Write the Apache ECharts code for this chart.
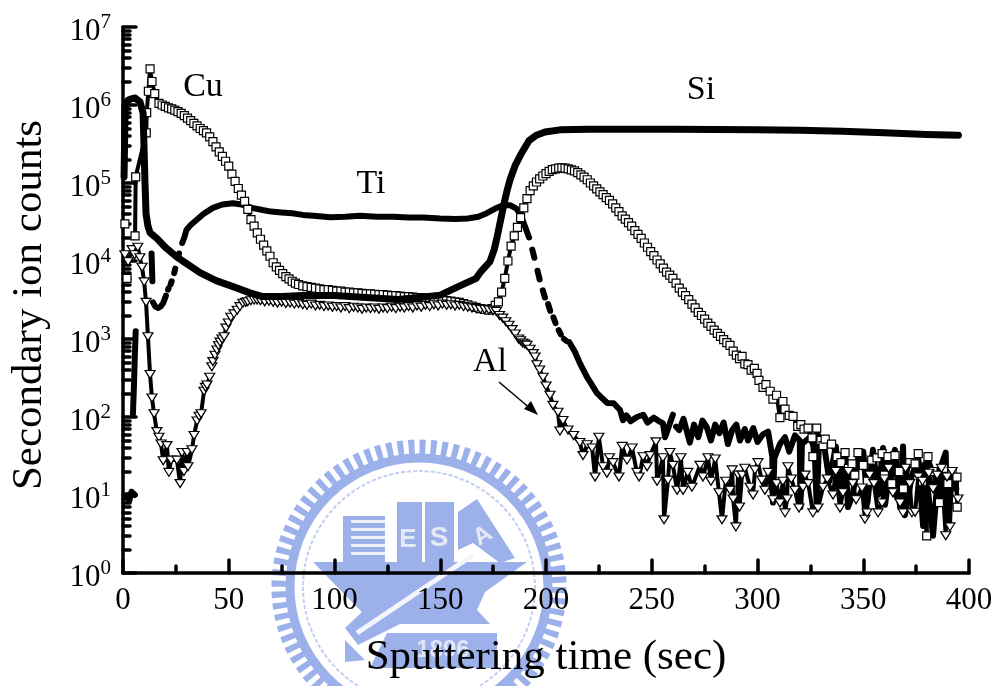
<!DOCTYPE html>
<html>
<head>
<meta charset="utf-8">
<title>Depth profile</title>
<script src="https://cdn.jsdelivr.net/npm/echarts@6/dist/echarts.min.js"></script>
<style>
html, body { margin: 0; padding: 0; background: #fff; }
#chart { width: 1003px; height: 686px; }
</style>
</head>
<body>
<div id="chart"></div>
<script>
// all values: [sec, counts], null = gap in the trace
const xTicks = [0, 50, 100, 150, 200, 250, 300, 350, 400]
const yTicks = [1, 10, 100, 1000, 1e4, 1e5, 1e6, 1e7]
const yMinorTicks = [
  2, 3, 4, 5, 6, 7, 8, 9,
  20, 30, 40, 50, 60, 70, 80, 90,
  200, 300, 400, 500, 600, 700, 800, 900,
  2000, 3000, 4000, 5000, 6000, 7000, 8000, 9000,
  2e4, 3e4, 4e4, 5e4, 6e4, 7e4, 8e4, 9e4,
  2e5, 3e5, 4e5, 5e5, 6e5, 7e5, 8e5, 9e5,
  2e6, 3e6, 4e6, 5e6, 6e6, 7e6, 8e6, 9e6,
]

const siCounts = [
  [0.5, 1.2e5], [1, 9.3e5], [2.4, 1.15e6], [4, 1.2e6], [5.7, 1.23e6], [8, 1.1e6], [9.5, 7.9e5], [10, 2.5e5],
  [10.4, 1e5], [10.9, 4e4], [11.8, 2.8e4], [12.8, 2.3e4], [16, 1.95e4], [20, 1.5e4], [25.5, 1.12e4], [30, 9300],
  [36.4, 7100], [44, 5600], [52, 4700], [60, 3900], [66, 3500], [75, 3500], [85, 3600], [100, 3600],
  [115, 3400], [130, 3200], [140, 3400], [150, 3650], [160, 4900], [167, 6000], [169, 7200], [173.5, 9800],
  [175.5, 14000], [177, 21000], [178.5, 33000], [180, 52000], [181.5, 78000], [183, 1.1e5], [185.5, 1.7e5], [188, 2.3e5],
  [192, 3.5e5], [195.5, 4.1e5], [199.5, 4.5e5], [206.6, 4.8e5], [220, 4.9e5], [240, 4.9e5], [260, 4.9e5], [280, 4.85e5],
  [300, 4.8e5], [320, 4.75e5], [340, 4.6e5], [360, 4.4e5], [380, 4.2e5], [395, 4.1e5],
]

const tiCounts = [
  [1.8, 10], [3, 8.5], [4, 11], [5.6, 10], [5.6, null],
  [4.7, 110], [5.2, 260], [5.6, 620], [6, 1260], [6, null],
  [13.5, 12500], [13.9, 5500], [13.9, null],
  [14.2, 2950], [15.3, 2600], [16.5, 2500], [17.8, 2600], [19, 2900], [20.3, 3600], [20.6, null],
  [21.3, 4300], [21.6, 4500], [21.6, null],
  [22.5, 5000], [23, 5500], [23, null], [24.2, 7000], [24.7, 8000], [24.7, null], [26, 11000], [26.5, 12500], [26.5, null],
  [28, 17000], [29, 20000], [30, 25000], [32, 29000], [35, 34000], [38, 40000], [42.5, 48000], [47, 53000],
  [52, 55000], [56, 53000], [61, 48000], [66, 45000], [70, 43000], [75, 42000], [80, 41000], [85, 39000],
  [90, 38000], [98, 36500], [105, 37000], [112, 38000], [120, 37000], [128, 37000], [135, 36000], [142, 36000],
  [150, 35000], [157, 34500], [163, 35000], [168, 37000], [172, 41000], [176, 47000], [180, 52000], [183, 52000],
  [186, 47000], [188, 39000], [190, 28000], [192, 20000], [192, null],
  [193.5, 14000], [194.5, 11000], [194.5, null], [196, 7500], [197, 5800], [197, null],
  [198.5, 4200], [199.5, 3400], [199.5, null], [201, 2800], [202, 2300], [202, null],
  [203.5, 1900], [204.5, 1600], [204.5, null], [206, 1300], [207, 1150], [207, null], [208.5, 1000], [209.5, 950], [209.5, null],
  [211, 912], [213.7, 680], [216, 490], [219.4, 324], [222, 250], [224, 204], [226.5, 175], [229, 151],
  [232, 150], [235, 123], [236.4, 91], [238, 105], [240, 88], [243, 100], [246, 107], [248, 85],
  [251, 98], [253, 90], [255.3, 83], [256.3, 55], [258, 75], [260, 107], [260, null],
  [261.5, 75], [263, 68], [265, 95], [268, 47], [270, 80], [272, 55], [274, 90], [276, 74],
  [278, 50], [280, 80], [282, 62], [284, 85], [286, 45], [288, 68], [290, 80], [291.7, 50],
  [294, 70], [295.5, 50], [298, 72], [300, 48], [302.6, 60], [305, 65], [307, 31], [307.3, 8],
  [308, 30], [310.6, 45], [313, 55], [315, 36], [317.7, 58], [320, 50], [320.3, 7], [321, 45],
  [324.8, 55], [327, 40], [328, 7], [329, 42], [331, 50], [332, 35], [334, 15], [337, 42],
  [339, 12], [341.4, 36], [342.8, 7], [345, 10], [347.5, 28], [350, 36], [352, 8], [354.6, 38],
  [357, 10], [359.4, 40], [360.3, 7.5], [362.6, 22], [365, 38], [367.4, 7], [368.8, 42], [369.7, 5.5],
  [373, 18], [376, 28], [378.3, 4], [379.2, 25], [383, 3], [385.3, 18], [389, 35], [389.6, 4.5],
  [392.4, 20], [394, 12],
]

const cuCounts = [
  [0.9, 3e4], [0.9, null], [1.9, 6000], [1.9, null],
  [5.7, 2.1e4], [6, 1.2e5], [11, 4.4e5], [11.2, 8e5], [12, 1.5e6], [12.8, 2.9e6], [13.7, 2e6], [15, 1.4e6],
  [17, 1.05e6], [18.5, 1e6], [20, 9.6e5], [21.5, 9.2e5], [23, 8.9e5], [24.5, 8.6e5], [26, 8.2e5], [27.5, 7.8e5],
  [29, 7.3e5], [30.5, 6.8e5], [32, 6.3e5], [33.5, 5.8e5], [35, 5.4e5], [36.5, 5e5], [38, 4.7e5], [39.5, 4.4e5],
  [41, 3.9e5], [42.5, 3.4e5], [44, 2.9e5], [45.5, 2.5e5], [47, 2.2e5], [48.5, 1.9e5], [50, 1.65e5], [51.5, 1.3e5],
  [53, 1.05e5], [54.5, 8.5e4], [56, 7e4], [57.5, 5.8e4], [59, 4.6e4], [60.5, 3.4e4], [62, 2.8e4], [63.5, 2.3e4],
  [65, 1.9e4], [66.5, 1.6e4], [68, 1.35e4], [69.5, 1.15e4], [71, 9500], [72.5, 8400], [74, 7600], [75.5, 6900],
  [77, 6300], [78.5, 5900], [80, 5500], [81.5, 5200], [83, 5000], [85, 4800], [87, 4700], [89, 4600],
  [91, 4500], [93, 4400], [95, 4300], [97, 4300], [99, 4200], [101, 4100], [103, 4100], [105, 4000],
  [107, 4000], [109, 3900], [111, 3900], [113, 3850], [115, 3800], [117, 3800], [119, 3750], [121, 3700],
  [123, 3700], [125, 3650], [127, 3600], [129, 3600], [131, 3550], [133, 3500], [135, 3500], [137, 3450],
  [139, 3400], [141, 3400], [143, 3350], [145, 3300], [147, 3250], [149, 3200], [151, 3150], [153, 3100],
  [155, 3050], [157, 3000], [159, 2950], [161, 2850], [163, 2750], [165, 2650], [167, 2550], [169, 2450],
  [171, 2400], [173, 2350], [174.5, 2450], [176, 2700], [177.5, 3000], [179, 4000], [180.5, 6000], [182, 10000],
  [183.5, 15500], [185, 21000], [186.5, 27000], [188, 36000], [189.5, 48000], [191, 63000], [192.5, 80000], [194, 92000],
  [195.5, 103000], [197, 113000], [198.5, 123000], [200, 132000], [201.5, 141000], [203, 148000], [204.5, 152000], [206, 155000],
  [207.5, 156000], [209, 155000], [210.5, 152000], [212, 147000], [213.5, 143000], [215, 136000], [216.5, 127000], [218, 119000],
  [219.5, 110000], [221, 100000], [222.5, 92000], [224, 84000], [225.5, 77000], [227, 71000], [228.5, 65000], [230, 60000],
  [231.5, 54000], [233, 48000], [234.5, 43000], [236, 38000], [237.5, 34500], [239, 31000], [240.5, 28000], [242, 24500],
  [243.5, 22000], [245, 19500], [246.5, 17000], [248, 15000], [249.5, 13200], [251, 11700], [252.5, 10300], [254, 9200],
  [255.5, 8100], [257, 7200], [258.5, 6600], [260, 6000], [261.5, 5200], [263, 4500], [264.5, 4000], [266, 3600],
  [267.5, 3200], [269, 2800], [270.5, 2500], [272, 2200], [273.5, 2000], [275, 1800], [276.5, 1600], [278, 1450],
  [279.5, 1300], [281, 1180], [282.5, 1080], [284, 980], [285.5, 900], [287, 830], [288.5, 700], [290, 620],
  [291.5, 560], [292.7, 600], [294, 480], [295.5, 468], [297, 400], [298.5, 420], [299.8, 363], [300.7, 295],
  [302.6, 240], [304, 260], [306, 214], [307.3, 170], [309, 190], [310.6, 98], [312, 158], [313, 126],
  [315, 105], [316.8, 102], [319, 76], [320.5, 80], [322, 70], [323.9, 72], [325.8, 54], [326.2, 31],
  [328, 72], [330, 50], [331, 43], [332, 52], [335, 45], [337.6, 31], [339.5, 26], [341.4, 35],
  [343, 22], [344.7, 25], [346, 18], [347.5, 35], [350, 24], [352, 15], [354, 28], [356.5, 30],
  [358.9, 34], [360, 18], [361.7, 31], [363.5, 14], [365, 32], [367, 20], [369, 12], [372, 26],
  [374.5, 25], [376, 34], [378, 15], [380, 3], [380.6, 31], [383, 20], [386, 8], [388, 22],
  [390, 14], [392, 20], [394.3, 17], [394.4, 7],
]

const alCounts = [
  [0.9, 12000], [2.4, 9800], [4.3, 14000], [5.5, 12000], [7, 15000], [8, 11000], [9, 8300], [10, 5400],
  [10.9, 2950], [11.8, 1070], [12.8, 350], [13.7, 175], [14.7, 110], [16, 65], [17, 55], [18, 45],
  [19, 27.5], [20.8, 43], [21.7, 19.5], [22.7, 28], [25.5, 28], [27, 14], [27.9, 35], [28.8, 20],
  [30.3, 35], [30.7, 23], [32.6, 38], [33.6, 58], [35, 89], [36, 102], [36.9, 110], [38.3, 214],
  [39, 240], [39.7, 257], [41, 324], [41, null], [42, 440], [42.5, 513], [43.5, 620], [44.4, 724],
  [45.2, 820], [45.9, 912], [46.8, 1000], [47.8, 1070], [48.7, 1380], [49.8, 1600], [51, 1900], [52.5, 2100],
  [54, 2340], [55.3, 2600], [56.7, 2880], [58, 2950], [59, 3000], [60.5, 3100], [62, 3150], [63.4, 3160],
  [65, 3100], [67, 3000], [69, 3050], [71, 2950], [73, 2900], [75, 2950], [77, 2850], [79, 2900],
  [81, 2800], [83, 2850], [85, 2750], [87, 2700], [89, 2800], [91, 2650], [93, 2700], [95, 2600],
  [97, 2650], [99, 2550], [101, 2600], [103, 2500], [105, 2600], [107, 2450], [109, 2550], [111, 2500],
  [113, 2400], [115, 2500], [117, 2450], [119, 2500], [121, 2400], [123, 2500], [125, 2450], [127, 2550],
  [129, 2450], [131, 2550], [133, 2500], [135, 2600], [137, 2500], [139, 2650], [141, 2550], [143, 2700],
  [145, 2600], [147, 2750], [149, 2650], [151, 2800], [153, 2700], [155, 2750], [157, 2650], [159, 2700],
  [161, 2600], [163, 2550], [165, 2500], [167, 2450], [169, 2400], [171, 2400], [173, 2350], [175, 2300],
  [176.5, 2250], [178, 2000], [179.5, 1850], [181, 1660], [182.5, 1500], [184, 1320], [185.5, 1160], [187, 1000],
  [188, 950], [189, 890], [190, 860], [191, 832], [192.5, 740], [194, 650], [194.8, 589], [195.7, 468],
  [197, 400], [198.6, 324], [200, 250], [201.9, 190], [203.3, 141], [205.7, 115], [206.6, 66], [208, 90],
  [210.4, 68], [213, 58], [216, 47], [217.5, 32], [219.5, 44], [221.8, 40], [223.2, 17], [225, 55],
  [227, 23], [228.8, 19], [230, 30], [231.7, 26], [234.5, 17], [236, 42], [238.3, 28], [240.7, 40],
  [243, 19.5], [244, 17], [245.9, 31], [247.8, 23], [249.2, 32], [252, 48], [252.5, 15], [255.3, 30],
  [255.8, 4.8], [257.7, 15.5], [258.6, 35], [260, 24], [262, 11.5], [263.8, 30], [264.8, 11.5], [267, 19.5],
  [269, 12.6], [272.8, 24], [274.2, 17], [276.6, 30], [278, 15], [280, 29], [281.8, 10.7], [283.2, 4.8],
  [285, 15], [287, 11.5], [288, 21], [288.5, 8.9], [289.8, 3.9], [290.8, 18], [291.5, 7], [292.7, 18],
  [294, 22], [296.5, 12.6], [297.9, 10], [298.8, 21], [300.2, 26], [302, 15.5], [303.5, 11.5], [305, 19.5],
  [307.3, 8.7], [309, 14], [310.6, 7.9], [312, 15], [313, 5.9], [314, 8.9], [314.4, 23], [316, 16],
  [317.7, 11.5], [319.6, 6.8], [321.5, 12.6], [322.5, 18], [324, 14], [326.2, 5.9], [328.6, 6.8], [331, 12.6],
  [333, 16], [335.7, 10], [337, 20], [339, 6.8], [340.4, 10.7], [343, 20], [345, 14], [346.6, 8.7],
  [349.4, 12.3], [350.8, 4.9], [351.8, 5.9], [353, 18], [355, 14], [357, 5.9], [358.9, 7.9], [360, 16],
  [362, 22], [364, 10.7], [367.4, 7.9], [368.8, 5.9], [370, 22], [372, 14], [373, 5.9], [374.5, 6],
  [376, 17], [378, 15], [381, 19], [383, 12], [384.9, 18], [387, 22], [389, 3], [389.6, 17],
  [391, 3.9], [392, 20], [394.8, 8.9],
]

const fontFamily = '"Liberation Serif", "Times New Roman", serif'
const logoColor = '#9cb0ea'

const buildLogo = () => [
  { type: 'circle', shape: { cx: 419, cy: 587, r: 140 }, style: { fill: 'none', stroke: logoColor, lineWidth: 15, lineDash: [6, 5] } },
  { type: 'circle', shape: { cx: 419, cy: 587, r: 129 }, style: { fill: 'none', stroke: logoColor, lineWidth: 9 } },
  { type: 'circle', shape: { cx: 419, cy: 587, r: 116 }, style: { fill: 'none', stroke: '#c3cfee', lineWidth: 2, lineDash: [4, 2] } },
  { type: 'rect', shape: { x: 343, y: 516, width: 42, height: 47 }, style: { fill: logoColor } },
  { type: 'rect', shape: { x: 351, y: 520, width: 34, height: 3 }, style: { fill: '#eef1fb' } },
  { type: 'rect', shape: { x: 351, y: 528, width: 34, height: 3 }, style: { fill: '#eef1fb' } },
  { type: 'rect', shape: { x: 351, y: 536, width: 34, height: 3 }, style: { fill: '#eef1fb' } },
  { type: 'rect', shape: { x: 351, y: 544, width: 34, height: 3 }, style: { fill: '#eef1fb' } },
  { type: 'rect', shape: { x: 351, y: 552, width: 34, height: 3 }, style: { fill: '#eef1fb' } },
  { type: 'rect', shape: { x: 397, y: 502, width: 25, height: 61 }, style: { fill: logoColor } },
  { type: 'rect', shape: { x: 425, y: 502, width: 29, height: 61 }, style: { fill: logoColor } },
  { type: 'polygon', shape: { points: [[458, 512], [477, 499], [515, 558], [500, 563], [473, 543], [458, 550]] }, style: { fill: logoColor } },
  { type: 'polygon', shape: { points: [[313, 562], [527, 562], [485, 592], [477, 610], [490, 624], [400, 624], [358, 645], [345, 628], [362, 612], [350, 600]] }, style: { fill: logoColor } },
  { type: 'polygon', shape: { points: [[387, 633], [497, 633], [497, 668], [370, 668]] }, style: { fill: logoColor } },
  { type: 'polygon', shape: { points: [[345, 640], [365, 660], [345, 662]] }, style: { fill: logoColor } },
  { type: 'line', shape: { x1: 473, y1: 555, x2: 357, y2: 633 }, style: { stroke: '#f4f6fc', lineWidth: 5 } },
  { type: 'text', style: { x: 408, y: 540, text: 'E', fill: '#e4e9f8', font: 'bold 26px "Liberation Sans"', align: 'center', verticalAlign: 'middle' } },
  { type: 'text', style: { x: 439, y: 538, text: 'S', fill: '#e4e9f8', font: 'bold 28px "Liberation Sans"', align: 'center', verticalAlign: 'middle' } },
  { type: 'text', rotation: 0.55, x: 483, y: 536, style: { text: 'A', fill: '#e4e9f8', font: 'bold 24px "Liberation Sans"', align: 'center', verticalAlign: 'middle' } },
  { type: 'text', style: { x: 443, y: 650, text: '1896', fill: '#dfe6f8', font: 'bold 24px "Liberation Sans"', align: 'center', verticalAlign: 'middle' } },
].map(item => ({ ...item, z: -1, silent: true }))

const note = (text, x, y) => ({
  type: 'text',
  z: 20,
  style: { x, y, text, fill: '#000', font: `34px ${fontFamily}`, align: 'center', verticalAlign: 'middle' },
})

const buildOption = () => ({
  animation: false,
  backgroundColor: '#fff',
  grid: { left: 123, right: 34, top: 27, bottom: 113, outerBoundsMode: 'none', containLabel: false },
  graphic: {
    elements: [
      ...buildLogo(),
      note('Cu', 203, 87),
      note('Ti', 371, 184),
      note('Si', 701, 90),
      note('Al', 490, 362),
      { type: 'line', z: 20, shape: { x1: 499, y1: 382, x2: 532, y2: 410 }, style: { stroke: '#000', lineWidth: 1.5 } },
      { type: 'polygon', z: 20, shape: { points: [[538, 415], [524, 409], [531, 401]] }, style: { fill: '#000' } },
    ],
  },
  xAxis: {
    type: 'value',
    min: 0,
    max: 400,
    interval: 50,
    name: 'Sputtering time (sec)',
    nameLocation: 'middle',
    nameGap: 63,
    nameTextStyle: { color: '#000', fontFamily, fontSize: 43 },
    axisLine: { show: true, lineStyle: { color: '#000', width: 3.5 } },
    axisTick: { show: true, inside: true, length: 13, lineStyle: { color: '#000', width: 3.5, cap: 'round' } },
    minorTick: { show: true, splitNumber: 2, length: 7, lineStyle: { color: '#000', width: 3.5, cap: 'round' } },
    axisLabel: {
      color: '#000',
      fontFamily,
      fontSize: 31,
      margin: 12,
      formatter: value => (xTicks.includes(value) ? String(value) : ''),
    },
    splitLine: { show: false },
  },
  yAxis: [
    {
      type: 'log',
      logBase: 10,
      min: 1,
      max: 1e7,
      name: 'Secondary ion counts',
      nameLocation: 'middle',
      nameGap: 72,
      nameRotate: 90,
      nameTextStyle: { color: '#000', fontFamily, fontSize: 43, padding: [0, 10, 0, 0] },
      axisLine: { show: true, lineStyle: { color: '#000', width: 3.5 } },
      axisTick: { show: true, inside: true, length: 13, lineStyle: { color: '#000', width: 3.5, cap: 'round' } },
      axisLabel: {
        margin: 12,
        formatter: value => (yTicks.includes(value) ? `{b|10}{s|${Math.round(Math.log10(value))}}` : ''),
        rich: {
          b: { color: '#000', fontFamily, fontSize: 31, lineHeight: 31, padding: [10, 0, 0, 0] },
          s: { color: '#000', fontFamily, fontSize: 21, lineHeight: 21, verticalAlign: 'top', padding: [0, 0, 8, 0] },
        },
      },
      splitLine: { show: false },
    },
    {
      type: 'log',
      logBase: 10,
      min: 1,
      max: 1e7,
      position: 'left',
      axisLine: { show: false },
      axisLabel: { show: false },
      axisTick: {
        show: true,
        inside: true,
        length: 7,
        customValues: yMinorTicks,
        lineStyle: { color: '#000', width: 3.5, cap: 'round' },
      },
      splitLine: { show: false },
    },
  ],
  series: [
    {
      name: 'Ti',
      type: 'line',
      z: 2,
      data: tiCounts,
      showSymbol: false,
      connectNulls: false,
      lineStyle: { color: '#000', width: 6, cap: 'round', join: 'round' },
    },
    {
      name: 'Cu',
      type: 'line',
      z: 3,
      data: cuCounts,
      symbol: 'rect',
      symbolSize: 8,
      connectNulls: false,
      lineStyle: { color: '#000', width: 4, cap: 'round', join: 'round' },
      itemStyle: { color: '#fff', borderColor: '#000', borderWidth: 1.2 },
    },
    {
      name: 'Al',
      type: 'line',
      z: 3,
      data: alCounts,
      symbol: 'triangle',
      symbolRotate: 180,
      symbolSize: [10, 8],
      connectNulls: false,
      lineStyle: { color: '#000', width: 4, cap: 'round', join: 'round' },
      itemStyle: { color: '#fff', borderColor: '#000', borderWidth: 1.2 },
    },
    {
      name: 'Si',
      type: 'line',
      z: 4,
      data: siCounts,
      showSymbol: false,
      lineStyle: { color: '#000', width: 7, cap: 'round', join: 'round' },
    },
  ],
})

const mychart = echarts.init(document.getElementById('chart'), null, { renderer: 'canvas' })
mychart.setOption(buildOption())
</script>
</body>
</html>
